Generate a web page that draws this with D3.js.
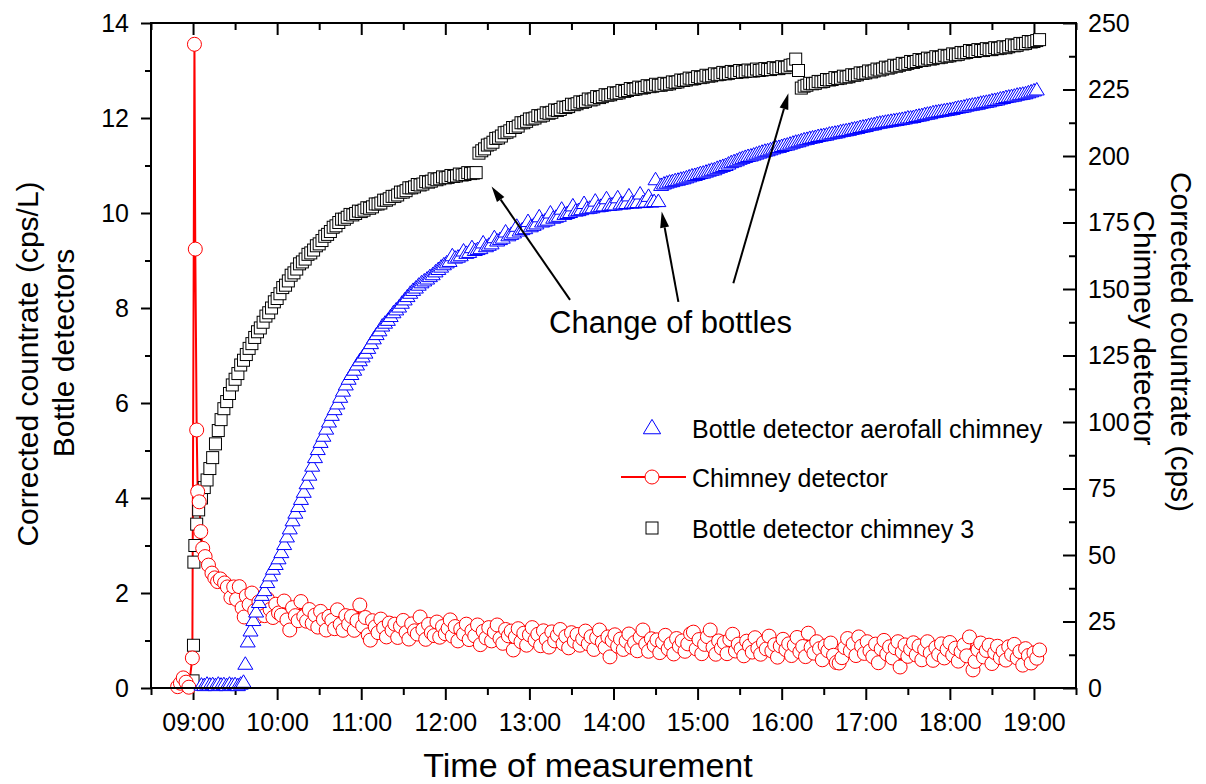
<!DOCTYPE html>
<html>
<head>
<meta charset="utf-8">
<script src="https://cdn.jsdelivr.net/npm/d3@7"></script>
<style>
  body { margin: 0; background: #fff; }
  svg text { font-family: "Liberation Sans", Arial, Helvetica, sans-serif; fill: #000; }
</style>
</head>
<body>
<svg id="chart" width="1206" height="784"></svg>
<script>
// Time is stored as minutes relative to 09:00.
const hourMinutes = [0, 60, 120, 180, 240, 300, 360, 420, 480, 540, 600];
const hourLabels = ["09:00", "10:00", "11:00", "12:00", "13:00", "14:00", "15:00", "16:00", "17:00", "18:00", "19:00"];
const halfHourMinutes = [-30, 30, 90, 150, 210, 270, 330, 390, 450, 510, 570, 630];
const leftMajor = [0, 2, 4, 6, 8, 10, 12, 14];
const leftMinor = [1, 3, 5, 7, 9, 11, 13];
const rightMajor = [0, 25, 50, 75, 100, 125, 150, 175, 200, 225, 250];
const rightMinor = [12.5, 37.5, 62.5, 87.5, 112.5, 137.5, 162.5, 187.5, 212.5, 237.5];

// Bottle detector, chimney 3 [minute, cps/L]
const bottleChimney3 = [
  [0,0.15],[0.3,0.9],[0.6,2.65],[1.3,3.0],[2.6,3.45],[4,3.75],[6,4.0],[8,4.22],[10,4.38],[12,4.62],
  [14,4.85],[16,5.14],[18,5.42],[20,5.65],[22,5.88],[24,6.03],[26,6.2],[28,6.38],[30,6.5],[32,6.62],
  [34,6.8],[36,6.9],[38,7.02],[40,7.15],[42,7.25],[44,7.38],[46,7.5],[48,7.58],[50,7.7],[52,7.83],
  [54,7.9],[56,8.0],[58,8.13],[60,8.2],[62,8.3],[64,8.43],[66,8.48],[68,8.57],[70,8.69],[72,8.74],
  [74,8.82],[76,8.93],[78,8.97],[80,9.03],[82,9.13],[84,9.16],[86,9.22],[88,9.31],[90,9.35],[92,9.42],
  [94,9.51],[96,9.55],[98,9.61],[100,9.7],[102,9.73],[104,9.8],[106,9.87],[108,9.87],[110,9.91],[112,9.97],
  [114,9.96],[116,9.99],[118,10.04],[120,10.03],[122,10.06],[124,10.11],[126,10.1],[128,10.13],[130,10.19],[132,10.19],
  [134,10.21],[136,10.27],[138,10.27],[140,10.3],[142,10.35],[144,10.35],[146,10.38],[148,10.44],[150,10.44],[152,10.47],
  [154,10.53],[156,10.53],[158,10.55],[160,10.6],[162,10.59],[164,10.61],[166,10.66],[168,10.65],[170,10.67],[172,10.72],
  [174,10.7],[176,10.72],[178,10.76],[180,10.74],[182,10.75],[184,10.79],[186,10.77],[188,10.78],[190,10.82],[192,10.8],
  [194,10.81],[196,10.85],[198,10.83],[200,10.84],[202,10.85],
  [204,11.26],[206,11.31],[208,11.35],[210,11.43],[212,11.45],[214,11.49],[216,11.57],[218,11.58],[220,11.62],[222,11.69],
  [224,11.7],[226,11.73],[228,11.8],[230,11.8],[232,11.83],[234,11.9],[236,11.9],[238,11.93],[240,11.98],[242,11.98],
  [244,12.0],[246,12.05],[248,12.04],[250,12.06],[252,12.11],[254,12.1],[256,12.12],[258,12.17],[260,12.16],[262,12.18],
  [264,12.23],[266,12.22],[268,12.24],[270,12.29],[272,12.28],[274,12.3],[276,12.34],[278,12.33],[280,12.35],[282,12.4],
  [284,12.38],[286,12.4],[288,12.45],[290,12.43],[292,12.45],[294,12.49],[296,12.48],[298,12.49],[300,12.53],[302,12.52],
  [304,12.53],[306,12.58],[308,12.56],[310,12.58],[312,12.62],[314,12.6],[316,12.61],[318,12.65],[320,12.63],[322,12.64],
  [324,12.68],[326,12.66],[328,12.67],[330,12.71],[332,12.69],[334,12.69],[336,12.73],[338,12.71],[340,12.72],[342,12.76],
  [344,12.75],[346,12.76],[348,12.8],[350,12.79],[352,12.8],[354,12.84],[356,12.82],[358,12.83],[360,12.87],[362,12.85],
  [364,12.86],[366,12.9],[368,12.88],[370,12.89],[372,12.93],[374,12.91],[376,12.92],[378,12.96],[380,12.93],[382,12.94],
  [384,12.98],[386,12.96],[388,12.96],[390,13.0],[392,12.97],[394,12.98],[396,13.01],[398,12.99],[400,12.99],[402,13.03],
  [404,13.0],[406,13.01],[408,13.04],[410,13.02],[412,13.02],[414,13.06],[416,13.04],[418,13.04],[420,13.08],[422,13.06],
  [424,13.07],[426,13.11],[428,13.12],[430,13.24],[432,13.0],[434,12.63],
  [436,12.67],[438,12.69],[440,12.73],[442,12.72],[444,12.73],[446,12.77],[448,12.76],[450,12.77],[452,12.81],[454,12.8],
  [456,12.81],[458,12.85],[460,12.83],[462,12.84],[464,12.88],[466,12.86],[468,12.87],[470,12.91],[472,12.9],[474,12.91],
  [476,12.95],[478,12.94],[480,12.95],[482,12.99],[484,12.97],[486,12.99],[488,13.03],[490,13.01],[492,13.03],[494,13.07],
  [496,13.05],[498,13.07],[500,13.11],[502,13.09],[504,13.11],[506,13.15],[508,13.13],[510,13.15],[512,13.19],[514,13.17],
  [516,13.19],[518,13.23],[520,13.21],[522,13.22],[524,13.26],[526,13.24],[528,13.25],[530,13.29],[532,13.27],[534,13.28],
  [536,13.32],[538,13.3],[540,13.31],[542,13.35],[544,13.33],[546,13.34],[548,13.38],[550,13.37],[552,13.38],[554,13.42],
  [556,13.4],[558,13.4],[560,13.44],[562,13.42],[564,13.42],[566,13.46],[568,13.44],[570,13.44],[572,13.48],[574,13.46],
  [576,13.47],[578,13.5],[580,13.48],[582,13.5],[584,13.54],[586,13.52],[588,13.53],[590,13.57],[592,13.56],[594,13.57],
  [596,13.61],[598,13.6],[600,13.61],[602,13.63],[604,13.65]
];

// Bottle detector, aerofall chimney [minute, cps/L]
const bottleAerofall = [
  [6,0.06],[8,0.05],[10,0.08],[12,0.06],[14,0.07],[16,0.05],[18,0.08],[20,0.06],[22,0.07],[24,0.05],
  [26,0.08],[28,0.06],[30,0.07],[32,0.05],[34,0.08],[36,0.12],[37.3,0.5],[39,0.97],[41,1.2],[43,1.42],
  [45,1.6],[47,1.8],[49,1.95],[51,2.05],[53,2.22],[55,2.36],[57,2.5],[59,2.6],[61,2.72],[63,2.85],
  [65,3.02],[67,3.18],[69,3.35],[71,3.52],[73,3.68],[75,3.82],[77,3.97],[79,4.12],[81,4.3],[83,4.48],
  [85,4.67],[87,4.85],[89,5.02],[91,5.17],[93,5.3],[95,5.45],[97,5.6],[99,5.74],[101,5.86],[103,5.98],
  [105,6.12],[107,6.25],[109,6.38],[111,6.5],[113,6.6],[115,6.69],[117,6.8],[119,6.89],[121,6.97],[123,7.05],
  [125,7.15],[127,7.25],[129,7.35],[131,7.44],[133,7.52],[135,7.62],[137,7.68],[139,7.74],[141,7.82],[143,7.9],
  [145,7.96],[147,8.02],[149,8.1],[151,8.17],[153,8.24],[155,8.31],[157,8.37],[159,8.42],[161,8.48],[163,8.53],
  [165,8.57],[167,8.61],[169,8.66],[171,8.7],[173,8.76],[175,8.81],[177,8.86],[179,8.91],[181,8.95],[183,8.98],
  [185,9.1],[187,9.05],[189,9.07],[191,9.1],[193,9.2],[195,9.15],[197,9.17],[199,9.27],[201,9.21],[203,9.23],
  [205,9.25],[207,9.37],[209,9.29],[211,9.32],[213,9.35],[215,9.48],[217,9.41],[219,9.44],[221,9.47],[223,9.6],
  [225,9.52],[227,9.55],[229,9.58],[231,9.72],[233,9.62],[235,9.65],[237,9.67],[239,9.82],[241,9.71],[243,9.74],
  [245,9.77],[247,9.92],[249,9.81],[251,9.83],[253,9.85],[255,10.0],[257,9.89],[259,9.91],[261,9.93],[263,10.08],
  [265,9.97],[267,9.99],[269,10.01],[271,10.15],[273,10.04],[275,10.05],[277,10.07],[279,10.2],[281,10.09],[283,10.1],
  [285,10.11],[287,10.25],[289,10.13],[291,10.14],[293,10.15],[295,10.3],[297,10.16],[299,10.17],[301,10.17],[303,10.32],
  [305,10.19],[307,10.19],[309,10.2],[311,10.36],[313,10.21],[315,10.21],[317,10.22],[319,10.4],[321,10.22],[323,10.23],
  [325,10.35],[327,10.23],[329,10.24],[330,10.7],[332,10.24],
  [334,10.58],[336,10.61],[338,10.63],[340,10.65],[342,10.66],[344,10.68],[346,10.69],[348,10.71],[350,10.72],[352,10.74],
  [354,10.76],[356,10.78],[358,10.79],[360,10.81],[362,10.83],[364,10.84],[366,10.86],[368,10.88],[370,10.9],[372,10.91],
  [374,10.94],[376,10.96],[378,10.98],[380,11.0],[382,11.03],[384,11.06],[386,11.08],[388,11.1],[390,11.13],[392,11.15],
  [394,11.17],[396,11.19],[398,11.2],[400,11.22],[402,11.24],[404,11.26],[406,11.28],[408,11.3],[410,11.31],[412,11.33],
  [414,11.35],[416,11.37],[418,11.38],[420,11.4],[422,11.42],[424,11.43],[426,11.45],[428,11.47],[430,11.49],[432,11.5],
  [434,11.52],[436,11.54],[438,11.55],[440,11.57],[442,11.58],[444,11.59],[446,11.61],[448,11.62],[450,11.63],[452,11.64],
  [454,11.66],[456,11.67],[458,11.68],[460,11.69],[462,11.71],[464,11.72],[466,11.73],[468,11.74],[470,11.76],[472,11.77],
  [474,11.78],[476,11.8],[478,11.81],[480,11.82],[482,11.84],[484,11.85],[486,11.86],[488,11.88],[490,11.89],[492,11.9],
  [494,11.91],[496,11.92],[498,11.93],[500,11.94],[502,11.95],[504,11.96],[506,11.97],[508,11.98],[510,12.0],[512,12.0],
  [514,12.01],[516,12.03],[518,12.04],[520,12.05],[522,12.07],[524,12.08],[526,12.09],[528,12.11],[530,12.12],[532,12.13],
  [534,12.14],[536,12.15],[538,12.16],[540,12.17],[542,12.18],[544,12.2],[546,12.21],[548,12.22],[550,12.23],[552,12.25],
  [554,12.26],[556,12.27],[558,12.28],[560,12.29],[562,12.31],[564,12.32],[566,12.33],[568,12.34],[570,12.36],[572,12.37],
  [574,12.38],[576,12.4],[578,12.41],[580,12.43],[582,12.44],[584,12.45],[586,12.46],[588,12.48],[590,12.49],[592,12.5],
  [594,12.51],[596,12.53],[598,12.55],[600,12.57],[602,12.59]
];

// Chimney detector [minute, cps]
const chimneyDetector = [
  [-11,0.5],[-9,1.8],[-7,3.8],[-5,2.2],[-3,0.3],[-0.5,11.3],[1,242],[1.6,165],[2.6,97],[3.3,73.8],
  [4.4,70],[5.5,58.8],[6.9,52.5],[8.6,49.4],[11,46.2],[13.5,43.2],[15.5,41.4],[17.5,40],[19.5,41],[22.5,39.5],
  [24.5,38],[27,34.0],[29,38.0],[31,33.3],[33,38.1],[35,30.1],[36.5,26.7],[38,34.6],[40,31.4],[42,35.7],
  [44,29.1],[45.5,26.8],[47,32.4],[49,29.1],[51,27.2],[53,33.6],[55,29.5],[57,26.5],[59,31.5],[61,28.2],
  [63,27.4],[65,32.7],[67,25.6],[69,21.8],[71,30.2],[73,27.2],[75,25.3],[77,32.5],[79,26.9],[81,25.1],
  [83,29.5],[85,24.3],[87,27.4],[89,22.9],[91,28.8],[93,25.7],[95,21.8],[97,26.9],[99,25.4],[101,22.3],
  [103,29.4],[105,23.9],[107,21.7],[109,27.2],[111,24.0],[113,26.9],[115,21.7],[117,25.3],[119,31.2],[121,23.3],
  [123,26.5],[125,20.0],[126.5,18],[128,25.3],[130,23.0],[132,20.8],[134,25.9],[136,22.6],[138,19.2],[140,24.4],
  [142,21.7],[144,24.0],[146,19.0],[148,23.2],[150,25.4],[152,20.8],[154,18.4],[156,24.1],[158,21.5],[160,20.3],
  [162,26.7],[164,22.0],[166,18.3],[168,23.9],[170,20.8],[172,19.7],[174,24.8],[176,19.1],[178,23.1],[180,20.4],
  [182,22.4],[183.5,25.6],[185,19.5],[187,23.1],[189,17.7],[191,22.1],[193,20.3],[195,24.0],[197,18.2],[199,21.5],
  [201,19.6],[203,23.7],[205,16.3],[207,21.3],[209,18.8],[211,22.7],[213,17.7],[215,21.0],[217,23.7],[219,18.6],
  [221,16.8],[223,22.0],[225,19.6],[227,21.4],[228.5,14.3],[230,19.2],[232,22.3],[234,17.4],[236,20.6],[238,16.1],
  [240,20.0],[242,22.7],[244,18.0],[246,20.2],[248,15.9],[250,21.5],[252,18.3],[254,15.4],[256,21.1],[258,17.7],
  [260,19.8],[262,22.0],[264,16.7],[266,19.4],[268,15.1],[270,20.8],[272,17.6],[274,20.1],[276,16.1],[278,18.5],
  [280,21.4],[282,16.6],[284,19.3],[286,14.5],[288,18.9],[290,21.8],[292,17.2],[294,15.2],[296,19.2],[297.5,11.7],
  [299,17.9],[301,20.0],[303,15.7],[305,18.4],[307,14.5],[309,17.7],[311,20.3],[313,15.3],[315,17.1],[317,14.0],
  [319,19.1],[321,21.8],[323,16.5],[325,13.8],[327,18.5],[329,16.0],[331,18.1],[333,13.3],[335,17.2],[337,19.8],
  [339,14.7],[341,16.6],[343,12.8],[345,18.6],[347,15.7],[349,17.7],[351,13.8],[353,16.6],[355,20.4],[357,21.0],
  [359,14.7],[361,18.2],[363,12.9],[365,16.4],[367,19.3],[369,21.8],[371,15.3],[373,12.7],[375,17.7],[377,15.0],
  [379,17.1],[381,12.9],[383,18.2],[385,20.2],[387,13.9],[389,16.5],[391,14.7],[393,12.1],[395,17.6],[397,15.8],
  [399,13.5],[401,18.9],[403,14.9],[405,12.7],[407,17.0],[409,14.7],[411,19.5],[413,13.9],[415,16.3],[417,11.6],
  [419,15.8],[421,18.3],[423,14.4],[425,16.6],[427,12.2],[429,16.1],[431,19.0],[433,13.6],[435,15.6],[437,11.8],
  [439,20.6],[441,15.3],[443,13.1],[445,17.4],[447,14.8],[449,10.6],[451,15.8],[453,14.0],[455,16.9],[457,12.3],
  [459,9.6],[461,9.4],[463,11.4],[465,15.2],[467,18.6],[469,14.0],[471,16.6],[473,12.2],[475,19.2],[477,15.7],
  [479,13.0],[481,17.4],[483,13.9],[485,11.8],[487,16.5],[489,9.5],[491,14.7],[493,17.9],[495,12.8],[497,15.5],
  [499,11.3],[501,15.1],[503,17.4],[504.5,7.9],[506,13.5],[508,16.2],[510,11.9],[512,14.6],[514,17.0],[516,12.4],
  [518,15.8],[520,10.6],[522,14.5],[524,17.4],[526,13.2],[528,10.4],[530,15.2],[532,12.6],[534,16.6],[536,11.3],
  [538,14.5],[540,17.1],[542,12.4],[544,15.0],[546,10.1],[548,13.7],[550,16.2],[552,12.1],[554,19.2],[556.5,6.8],
  [558,10.0],[560,14.4],[562,16.9],[564,11.7],[566,14.1],[568,16.1],[570,9.2],[572,13.3],[574,15.7],[576,11.4],
  [578,13.8],[580,10.5],[582,15.5],[584,12.6],[586,16.4],[588,11.3],[590,13.7],[592,8.6],[594,14.8],[596,12.2],
  [598,9.4],[600,13.2],[602,11.2],[604,14.3]
];

// "Change of bottles" annotation: label anchor and arrow tails/tips in [minute, cps/L]
const noteLabel = "Change of bottles";
const noteAnchor = [254, 7.47];
const noteArrows = [
  { from: [269, 8.17], to: [213, 10.56] },
  { from: [346.3, 8.13], to: [334.4, 10.03] },
  { from: [385.5, 8.52], to: [424.8, 12.52] }
];

const legendItems = [
  { label: "Bottle detector aerofall chimney", kind: "triangle" },
  { label: "Chimney detector", kind: "circle" },
  { label: "Bottle detector chimney 3", kind: "square" }
];

// ---------------------------------------------------------------
const svg = d3.select("#chart");
const box = { left: 151, right: 1076, top: 23, bottom: 688 };

const x = d3.scaleLinear().domain([-30, 630]).range([box.left, box.right]);
const yL = d3.scaleLinear().domain([0, 14]).range([box.bottom, box.top]);
const yR = d3.scaleLinear().domain([0, 250]).range([box.bottom, box.top]);

const FONT = 25;

function drawAxis(gen, tx, ty, labels) {
  const g = svg.append("g").attr("transform", `translate(${tx},${ty})`).call(gen);
  g.select(".domain").remove();
  g.selectAll(".tick line").attr("stroke", "#000").attr("stroke-width", 2);
  g.selectAll(".tick text").attr("font-size", FONT).attr("fill", "#000")
    .style("font-family", '"Liberation Sans", Arial, sans-serif');
  if (!labels) g.selectAll(".tick text").remove();
  return g;
}

// bottom
drawAxis(d3.axisBottom(x).tickValues(hourMinutes).tickFormat((d, i) => hourLabels[i])
  .tickSizeInner(12).tickSizeOuter(0).tickPadding(13), 0, box.bottom, true);
drawAxis(d3.axisBottom(x).tickValues(halfHourMinutes).tickSizeInner(7).tickSizeOuter(0), 0, box.bottom, false);
// top (ticks inside)
drawAxis(d3.axisTop(x).tickValues(hourMinutes).tickSizeInner(-12).tickSizeOuter(0), 0, box.top, false);
drawAxis(d3.axisTop(x).tickValues(halfHourMinutes).tickSizeInner(-7).tickSizeOuter(0), 0, box.top, false);
// left
drawAxis(d3.axisLeft(yL).tickValues(leftMajor).tickFormat(d3.format("d"))
  .tickSizeInner(10).tickSizeOuter(0).tickPadding(12), box.left, 0, true);
drawAxis(d3.axisLeft(yL).tickValues(leftMinor).tickSizeInner(6).tickSizeOuter(0), box.left, 0, false);
// right (ticks inside)
drawAxis(d3.axisRight(yR).tickValues(rightMajor).tickFormat(d3.format("d"))
  .tickSizeInner(-13).tickSizeOuter(0).tickPadding(12), box.right, 0, true);
drawAxis(d3.axisRight(yR).tickValues(rightMinor).tickSizeInner(-7).tickSizeOuter(0), box.right, 0, false);

// marker shapes
const triPath = "M0,-7.5L7.5,5L-7.5,5Z";
function drawMarker(g, kind, cx, cy, scale = 1) {
  if (kind === "triangle") {
    g.append("path").attr("d", triPath)
      .attr("transform", `translate(${cx},${cy}) scale(${scale})`)
      .attr("fill", "#fff").attr("stroke", "#0000ff").attr("stroke-width", 1 / scale);
  } else if (kind === "circle") {
    g.append("circle").attr("cx", cx).attr("cy", cy).attr("r", 7 * scale)
      .attr("fill", "#fff").attr("stroke", "#ff0000").attr("stroke-width", 1);
  } else {
    const s = 12 * scale;
    g.append("rect").attr("x", cx - s / 2).attr("y", cy - s / 2).attr("width", s).attr("height", s)
      .attr("fill", "#fff").attr("stroke", "#000").attr("stroke-width", 1);
  }
}

const plot = svg.append("g");

// chimney detector connecting line
plot.append("path")
  .datum(chimneyDetector)
  .attr("fill", "none").attr("stroke", "#ff0000").attr("stroke-width", 2)
  .attr("d", d3.line().x(d => x(d[0])).y(d => yR(d[1])));

// bottle detector chimney 3
const sq = plot.append("g");
bottleChimney3.forEach(d => drawMarker(sq, "square", x(d[0]), yL(d[1])));

// chimney detector symbols
const ci = plot.append("g");
chimneyDetector.forEach(d => drawMarker(ci, "circle", x(d[0]), yR(d[1])));

// bottle detector aerofall chimney
const tr = plot.append("g");
bottleAerofall.forEach(d => drawMarker(tr, "triangle", x(d[0]), yL(d[1])));

// frame
svg.append("rect")
  .attr("x", box.left).attr("y", box.top)
  .attr("width", box.right - box.left).attr("height", box.bottom - box.top)
  .attr("fill", "none").attr("stroke", "#000").attr("stroke-width", 2);

// annotation
const note = svg.append("g");
note.append("text").attr("x", x(noteAnchor[0])).attr("y", yL(noteAnchor[1]))
  .attr("font-size", 31).text(noteLabel);
noteArrows.forEach(a => {
  const x1 = x(a.from[0]), y1 = yL(a.from[1]), x2 = x(a.to[0]), y2 = yL(a.to[1]);
  const ang = Math.atan2(y2 - y1, x2 - x1);
  const L = 16, W = 4.5;
  const bx = x2 - L * Math.cos(ang), by = y2 - L * Math.sin(ang);
  note.append("line").attr("x1", x1).attr("y1", y1).attr("x2", bx).attr("y2", by)
    .attr("stroke", "#000").attr("stroke-width", 2);
  const px = -Math.sin(ang) * W, py = Math.cos(ang) * W;
  note.append("path")
    .attr("d", `M${x2},${y2}L${bx + px},${by + py}L${bx - px},${by - py}Z`)
    .attr("fill", "#000");
});

// legend
const legend = svg.append("g");
const legendRows = [428, 477, 528];
legendItems.forEach((item, i) => {
  const cy = legendRows[i];
  if (item.kind === "circle") {
    legend.append("line").attr("x1", 621).attr("x2", 686).attr("y1", cy).attr("y2", cy)
      .attr("stroke", "#ff0000").attr("stroke-width", 2);
  }
  drawMarker(legend, item.kind, 652, cy, item.kind === "triangle" ? 1.15 : 1);
  legend.append("text").attr("x", 692).attr("y", cy + 10).attr("font-size", FONT).text(item.label);
});

// axis titles
svg.append("text").attr("text-anchor", "middle").attr("font-size", 34)
  .attr("x", 588).attr("y", 777).text("Time of measurement");
svg.append("text").attr("text-anchor", "middle").attr("font-size", 30)
  .attr("transform", "translate(38,364) rotate(-90)").text("Corrected countrate (cps/L)");
svg.append("text").attr("text-anchor", "middle").attr("font-size", 30)
  .attr("transform", "translate(74,353) rotate(-90)").text("Bottle detectors");
svg.append("text").attr("text-anchor", "middle").attr("font-size", 30)
  .attr("transform", "translate(1171,342) rotate(90)").text("Corrected countrate (cps)");
svg.append("text").attr("text-anchor", "middle").attr("font-size", 30)
  .attr("transform", "translate(1134,328) rotate(90)").text("Chimney detector");
</script>
</body>
</html>
